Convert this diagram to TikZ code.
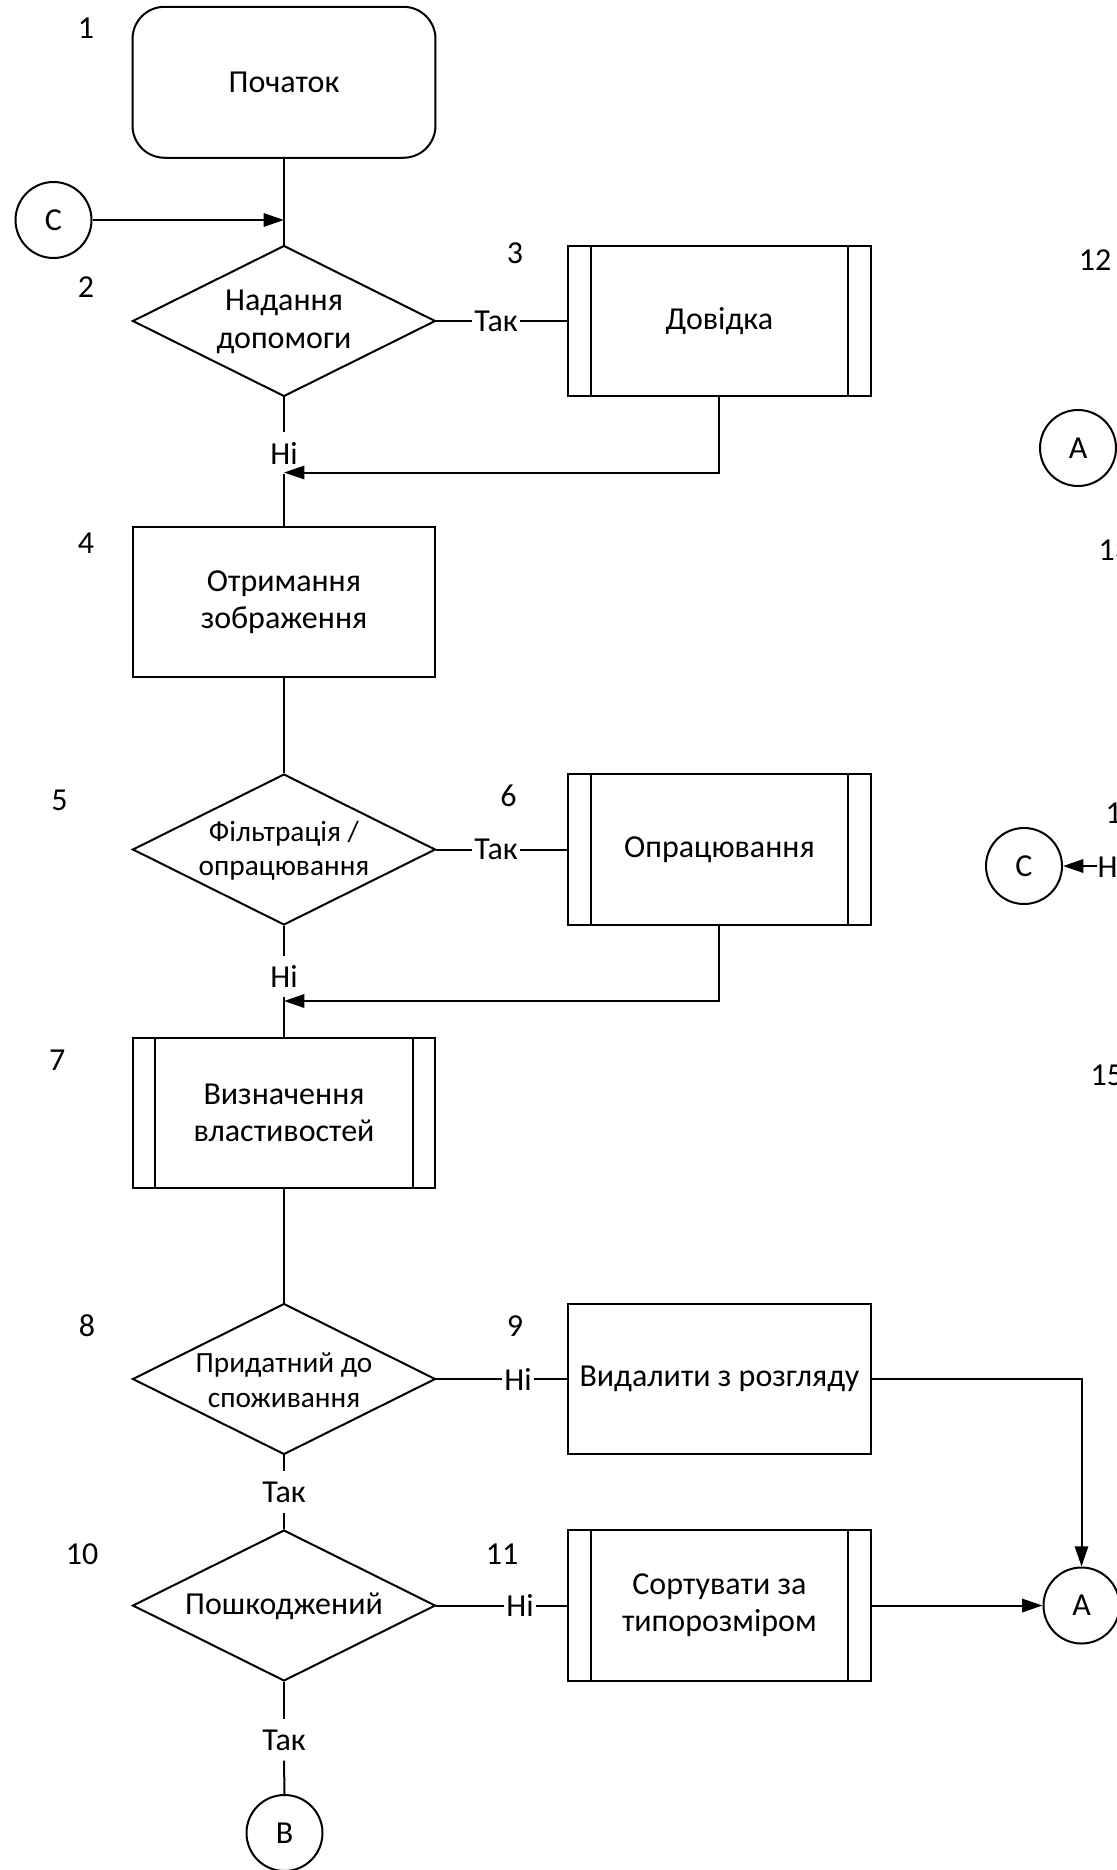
\documentclass[tikz,border=0pt]{standalone}
\usepackage{fontspec}
\setmainfont{Carlito}
\usetikzlibrary{shapes.geometric,arrows.meta,calc}
\newcommand{\mfs}{\fontsize{12}{14}\selectfont}
\newcommand{\dfs}{\fontsize{11}{12.9}\selectfont}
\tikzset{
  ln/.style={line width=0.75pt},
  arr/.style={ln,-{Triangle[length=7.6pt,width=5pt]}},
  box/.style={draw, ln, minimum width=113.6pt, minimum height=56.6pt, inner sep=0pt, align=center, font=\mfs},
  startbox/.style={box, rounded corners=12pt},
  subbox/.style={box, path picture={
      \draw[ln] ([xshift=8.6pt]path picture bounding box.north west) -- ([xshift=8.6pt]path picture bounding box.south west);
      \draw[ln] ([xshift=-8.6pt]path picture bounding box.north east) -- ([xshift=-8.6pt]path picture bounding box.south east);}},
  dia/.style={draw, ln, diamond, minimum width=113.6pt, minimum height=56.6pt, inner sep=0pt},
  dtext/.style={align=center, inner sep=0pt, font=\mfs},
  dtexts/.style={align=center, inner sep=0pt, font=\dfs},
  conn/.style={draw, ln, circle, minimum size=28.5pt, inner sep=0pt, font=\mfs},
  lbl/.style={inner sep=0pt, minimum height=15pt, font=\mfs},
  hlbl/.style={inner xsep=0.5pt, inner ysep=0pt, font=\mfs},
  num/.style={inner sep=0pt, font=\mfs},
}
\begin{document}
\begin{tikzpicture}[x=0.375pt, y=-0.375pt]
\useasboundingbox (0,0) rectangle (1117,1870);
\clip (0,0) rectangle (1117,1870);
% main column
\node[startbox] (s) at (284,82.3) {Початок};
\node[conn] (cL) at (53.5,220) {C};
\node[dia] (d2) at (284,321) {};
\node[dtext] (d2t) at (284,322) {Надання\\[0.4pt]допомоги};
\node[subbox] (b3) at (719.4,321) {Довідка};
\node[box] (b4) at (284,602) {Отримання\\зображення};
\node[dia] (d5) at (284,849.5) {};
\node[dtexts] (d5t) at (284,850.5) {Фільтрація /\\опрацювання};
\node[subbox] (b6) at (719.4,849.5) {Опрацювання};
\node[box, path picture={
      \draw[ln] ([xshift=8.6pt]path picture bounding box.north west) -- ([xshift=8.6pt]path picture bounding box.south west);
      \draw[ln] ([xshift=-8.6pt]path picture bounding box.north east) -- ([xshift=-8.6pt]path picture bounding box.south east);}]
  (b7) at (284,1113) {Визначення\\властивостей};
\node[dia] (d8) at (284,1379) {};
\node[dtexts] (d8t) at (284,1380) {Придатний до\\споживання};
\node[box] (b9) at (719.4,1379) {Видалити з розгляду};
\node[dia] (d10) at (284,1605.5) {};
\node[dtext] (d10t) at (284,1606) {Пошкоджений};
\node[subbox] (b11) at (719.4,1605.5) {Сортувати за\\типорозміром};
\node[conn] (cA) at (1081.5,1605.5) {A};
\node[conn] (cB) at (284.5,1833) {B};
% labels on connectors
\node[hlbl] (t1) at (496,321) {Так};
\node[lbl] (n1) at (284,453) {Ні};
\node[hlbl] (t2) at (496,849.5) {Так};
\node[lbl] (n2) at (284,976.5) {Ні};
\node[hlbl] (n3) at (518,1379) {Ні};
\node[lbl] (t3) at (284,1492) {Так};
\node[hlbl] (n4) at (520,1605.5) {Ні};
\node[lbl] (t4) at (284,1740) {Так};
% junctions
\coordinate (j1) at (284,220);
\coordinate (j2) at (284,472.5);
\coordinate (j3) at (284,1001);
% step numbers
\node[num] (k1) at (86,28) {1};
\node[num] (k2) at (86,287) {2};
\node[num] (k3) at (515,253) {3};
\node[num] (k4) at (86,543) {4};
\node[num] (k5) at (59.6,800) {5};
\node[num] (k6) at (508.6,796) {6};
\node[num] (k7) at (57.2,1060) {7};
\node[num] (k8) at (87,1326) {8};
\node[num] (k9) at (515,1326) {9};
\node[num] (k10) at (82,1554) {10};
\node[num] (k11) at (502,1554) {11};
% partly visible right column
\node[num] (k12) at (1095,260) {12};
\node[conn] (cA2) at (1078,448) {A};
\node[num, anchor=west] (k13) at (1098,550) {13};
\node[num, anchor=west] (k14) at (1105,813) {14};
\node[conn] (cC2) at (1024,866) {C};
\node[hlbl, anchor=west, inner xsep=0pt] (n5) at (1097,866) {Ні};
\node[num, anchor=west] (k15) at (1090,1075) {15};
% connectors
\draw[ln] (s.south) -- (d2.north);
\draw[arr] (cL.east) -- (j1);
\draw[ln] (d2.east) -- (t1.west);
\draw[ln] (t1.east) -- (b3.west);
\draw[ln] (d2.south) -- (n1.north);
\draw[ln] (n1.south) -- (b4.north);
\draw[arr] (b3.south) |- (j2);
\draw[ln] (b4.south) -- (d5.north);
\draw[ln] (d5.east) -- (t2.west);
\draw[ln] (t2.east) -- (b6.west);
\draw[ln] (d5.south) -- (n2.north);
\draw[ln] (n2.south) -- (b7.north);
\draw[arr] (b6.south) |- (j3);
\draw[ln] (b7.south) -- (d8.north);
\draw[ln] (d8.east) -- (n3.west);
\draw[ln] (n3.east) -- (b9.west);
\draw[arr] (b9.east) -| (cA.north);
\draw[ln] (d8.south) -- (t3.north);
\draw[ln] (t3.south) -- (d10.north);
\draw[ln] (d10.east) -- (n4.west);
\draw[ln] (n4.east) -- (b11.west);
\draw[arr] (b11.east) -- (cA.west);
\draw[ln] (d10.south) -- (t4.north);
\draw[ln] (t4.south) -- (cB.north);
\draw[arr] (n5.west) -- (cC2.east);
\end{tikzpicture}
\end{document}
